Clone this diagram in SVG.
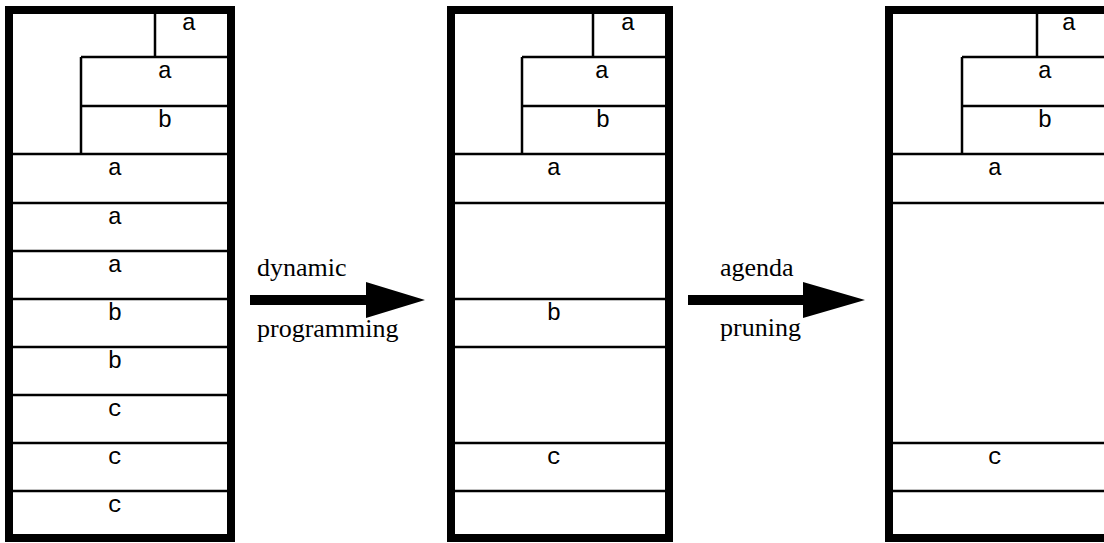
<svg xmlns="http://www.w3.org/2000/svg" width="1104" height="543" viewBox="0 0 1104 543">
<style>
.frame{fill:none;stroke:#000;stroke-width:8}
.ln{stroke:#000;stroke-width:2.5;fill:none}
.lb{font-family:'Courier New','Liberation Mono','Nimbus Mono PS',monospace;font-size:24px;text-anchor:middle;fill:#000}
.cap{font-family:'Liberation Serif','Times New Roman',serif;font-size:26px;fill:#000}
</style>
<rect width="1104" height="543" fill="#fff"/>
<g id="chart1">
<rect class="frame" x="9" y="10" width="222" height="528"/>
<path class="ln" d="M155 10V57M81 57H231M81 106H231M81 57V154M9 154H231M9 203H231M9 251H231M9 299H231M9 347H231M9 395H231M9 443H231M9 491H231"/>
<text class="lb" x="189" y="30">a</text>
<text class="lb" x="165" y="78">a</text>
<text class="lb" x="165" y="127">b</text>
<text class="lb" x="115" y="175">a</text>
<text class="lb" x="115" y="224">a</text>
<text class="lb" x="115" y="272">a</text>
<text class="lb" x="115" y="320">b</text>
<text class="lb" x="115" y="368">b</text>
<text class="lb" x="115" y="416">c</text>
<text class="lb" x="115" y="464">c</text>
<text class="lb" x="115" y="512">c</text>
</g>
<g id="chart2">
<rect class="frame" x="451" y="10" width="218" height="528"/>
<path class="ln" d="M593 10V57M522 57H669M522 106H669M522 57V154M451 154H669M451 203H669M451 299H669M451 347H669M451 443H669M451 491H669"/>
<text class="lb" x="628" y="30">a</text>
<text class="lb" x="602" y="78">a</text>
<text class="lb" x="603" y="127">b</text>
<text class="lb" x="554" y="175">a</text>
<text class="lb" x="554" y="320">b</text>
<text class="lb" x="554" y="464">c</text>
</g>
<g id="chart3">
<rect class="frame" x="889" y="10" width="222" height="528"/>
<path class="ln" d="M1037 10V57M962 57H1111M962 106H1111M962 57V154M889 154H1111M889 203H1111M889 443H1111M889 491H1111"/>
<text class="lb" x="1069" y="30">a</text>
<text class="lb" x="1045" y="78">a</text>
<text class="lb" x="1045" y="127">b</text>
<text class="lb" x="995" y="175">a</text>
<text class="lb" x="995" y="464">c</text>
</g>
<g id="connectors">
<g id="arrow1">
<path d="M250 295H366V282L425 300L366 318V305H250Z" fill="#000"/>
<text class="cap" x="257" y="276">dynamic</text>
<text class="cap" x="257" y="337">programming</text>
</g>
<g id="arrow2">
<path d="M688 295H803V282L865 300L803 318V305H688Z" fill="#000"/>
<text class="cap" x="720" y="276">agenda</text>
<text class="cap" x="720" y="336">pruning</text>
</g>
</g>
</svg>
